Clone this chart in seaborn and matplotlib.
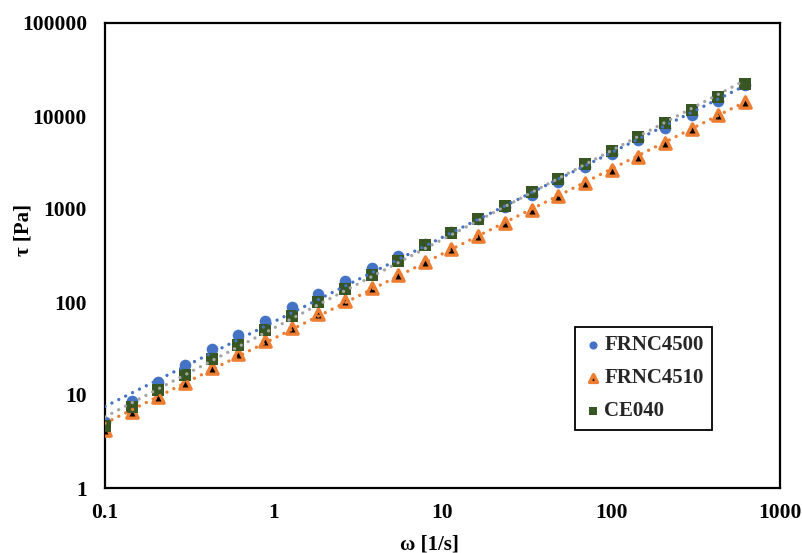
import numpy as np
import pandas as pd
import matplotlib
matplotlib.use("Agg")
import matplotlib.pyplot as plt
import seaborn as sns
from matplotlib.ticker import FixedLocator, FixedFormatter, NullLocator

# ---- data ----
omega = [0.1, 0.144, 0.207, 0.298, 0.428, 0.616, 0.887, 1.28, 1.84, 2.64, 3.80, 5.47,
         7.87, 11.3, 16.3, 23.4, 33.7, 48.5, 69.8, 100.4, 144, 208, 299, 430, 619]
frnc4500 = [5.1, 8.7, 13.9, 21.0, 31.0, 44.2, 62.5, 87.7, 121, 168, 230, 312,
            421, 570, 775, 1043, 1415, 1967, 2807, 3873, 5521, 7380, 10250, 14600, 21500]
frnc4510 = [4.2, 6.6, 9.6, 13.6, 19.4, 27.4, 38.4, 52.9, 74.3, 102.5, 141, 195,
            269, 369, 512, 712, 975, 1380, 1890, 2627, 3650, 5085, 7190, 10250, 14250]
ce040 = [4.64, 7.38, 11.3, 16.5, 24.2, 34.8, 49.6, 70.2, 99.3, 139, 195, 278,
         410, 556, 775, 1084, 1513, 2118, 3025, 4236, 5903, 8350, 11600, 16100, 21900]
series_names = ["FRNC4500", "FRNC4510", "CE040"]
x_ticks = [0.1, 1, 10, 100, 1000]
x_tick_labels = ["0.1", "1", "10", "100", "1000"]
y_ticks = [1, 10, 100, 1000, 10000, 100000]
y_tick_labels = ["1", "10", "100", "1000", "10000", "100000"]

sns.set_theme(style="white")
plt.rcParams["font.family"] = ["Liberation Serif", "DejaVu Serif"]
plt.rcParams["font.weight"] = "bold"

fig = plt.figure(figsize=(8.02, 5.53), dpi=100)
ax = fig.add_axes([105 / 802, 1 - 488 / 553, 675 / 802, 465 / 553])

blue = "#4472C4"
orange = "#ED7D31"
green = "#375623"
gray = "#A5A5A5"

df = pd.DataFrame({"omega": omega, "FRNC4500": frnc4500, "FRNC4510": frnc4510, "CE040": ce040})

sns.scatterplot(data=df, x="omega", y="FRNC4500", ax=ax, marker="o", s=70,
                color=blue, edgecolor=blue, linewidth=0, label=series_names[0], zorder=3)
sns.scatterplot(data=df, x="omega", y="FRNC4510", ax=ax, marker="^", s=66,
                color="black", edgecolor=orange, linewidth=2.4, label=series_names[1], zorder=3)
sns.scatterplot(data=df, x="omega", y="CE040", ax=ax, marker="s", s=64,
                color=green, edgecolor=green, linewidth=0, label=series_names[2], zorder=3)

# power-law trendlines (fit in log space)
lx = np.log10(np.array(omega))
xs = np.array(omega)
for yv, col in [(frnc4500, blue), (frnc4510, orange), (ce040, gray)]:
    b, a = np.polyfit(lx, np.log10(np.array(yv)), 1)
    ys = 10 ** (a + b * lx)
    sns.lineplot(x=xs, y=ys, ax=ax, color=col, linewidth=2.4, zorder=4,
                 linestyle=(0, (0.01, 2.3)), dash_capstyle="round", legend=False,
                 estimator=None, sort=False)

ax.set_xscale("log")
ax.set_yscale("log")
ax.set_xlim(0.1, 1000)
ax.set_ylim(1, 100000)
ax.xaxis.set_major_locator(FixedLocator(x_ticks))
ax.xaxis.set_major_formatter(FixedFormatter(x_tick_labels))
ax.xaxis.set_minor_locator(NullLocator())
ax.yaxis.set_major_locator(FixedLocator(y_ticks))
ax.yaxis.set_major_formatter(FixedFormatter(y_tick_labels))
ax.yaxis.set_minor_locator(NullLocator())
ax.tick_params(axis="both", length=0, labelsize=15.5, colors="black")
ax.tick_params(axis="x", pad=11)
ax.tick_params(axis="y", pad=13)
for lab in ax.get_xticklabels() + ax.get_yticklabels():
    lab.set_fontweight("bold")

for sp in ax.spines.values():
    sp.set_color("black")
    sp.set_linewidth(1.6)
    sp.set_visible(True)

ax.set_xlabel("ω [1/s]", fontsize=15, fontweight="bold", color="black")
ax.set_ylabel("τ [Pa]", fontsize=15, fontweight="bold", color="black")
ax.xaxis.set_label_coords(0.481, -0.099)
ax.yaxis.set_label_coords(-0.106, 0.555)

handles, labels = ax.get_legend_handles_labels()
leg = ax.legend(handles[:3], labels[:3], loc="upper left",
                bbox_to_anchor=(575 / 802, 1 - 327 / 553), bbox_transform=fig.transFigure,
                frameon=True, fancybox=False, framealpha=1, edgecolor="black",
                prop={"family": "Liberation Serif", "weight": "bold", "size": 15},
                markerscale=0.7, handletextpad=0.1, handlelength=0.9,
                labelspacing=0.62, borderpad=0.4, borderaxespad=0)
leg.get_frame().set_linewidth(1.3)

fig.savefig("out.png", dpi=100, facecolor="white")
